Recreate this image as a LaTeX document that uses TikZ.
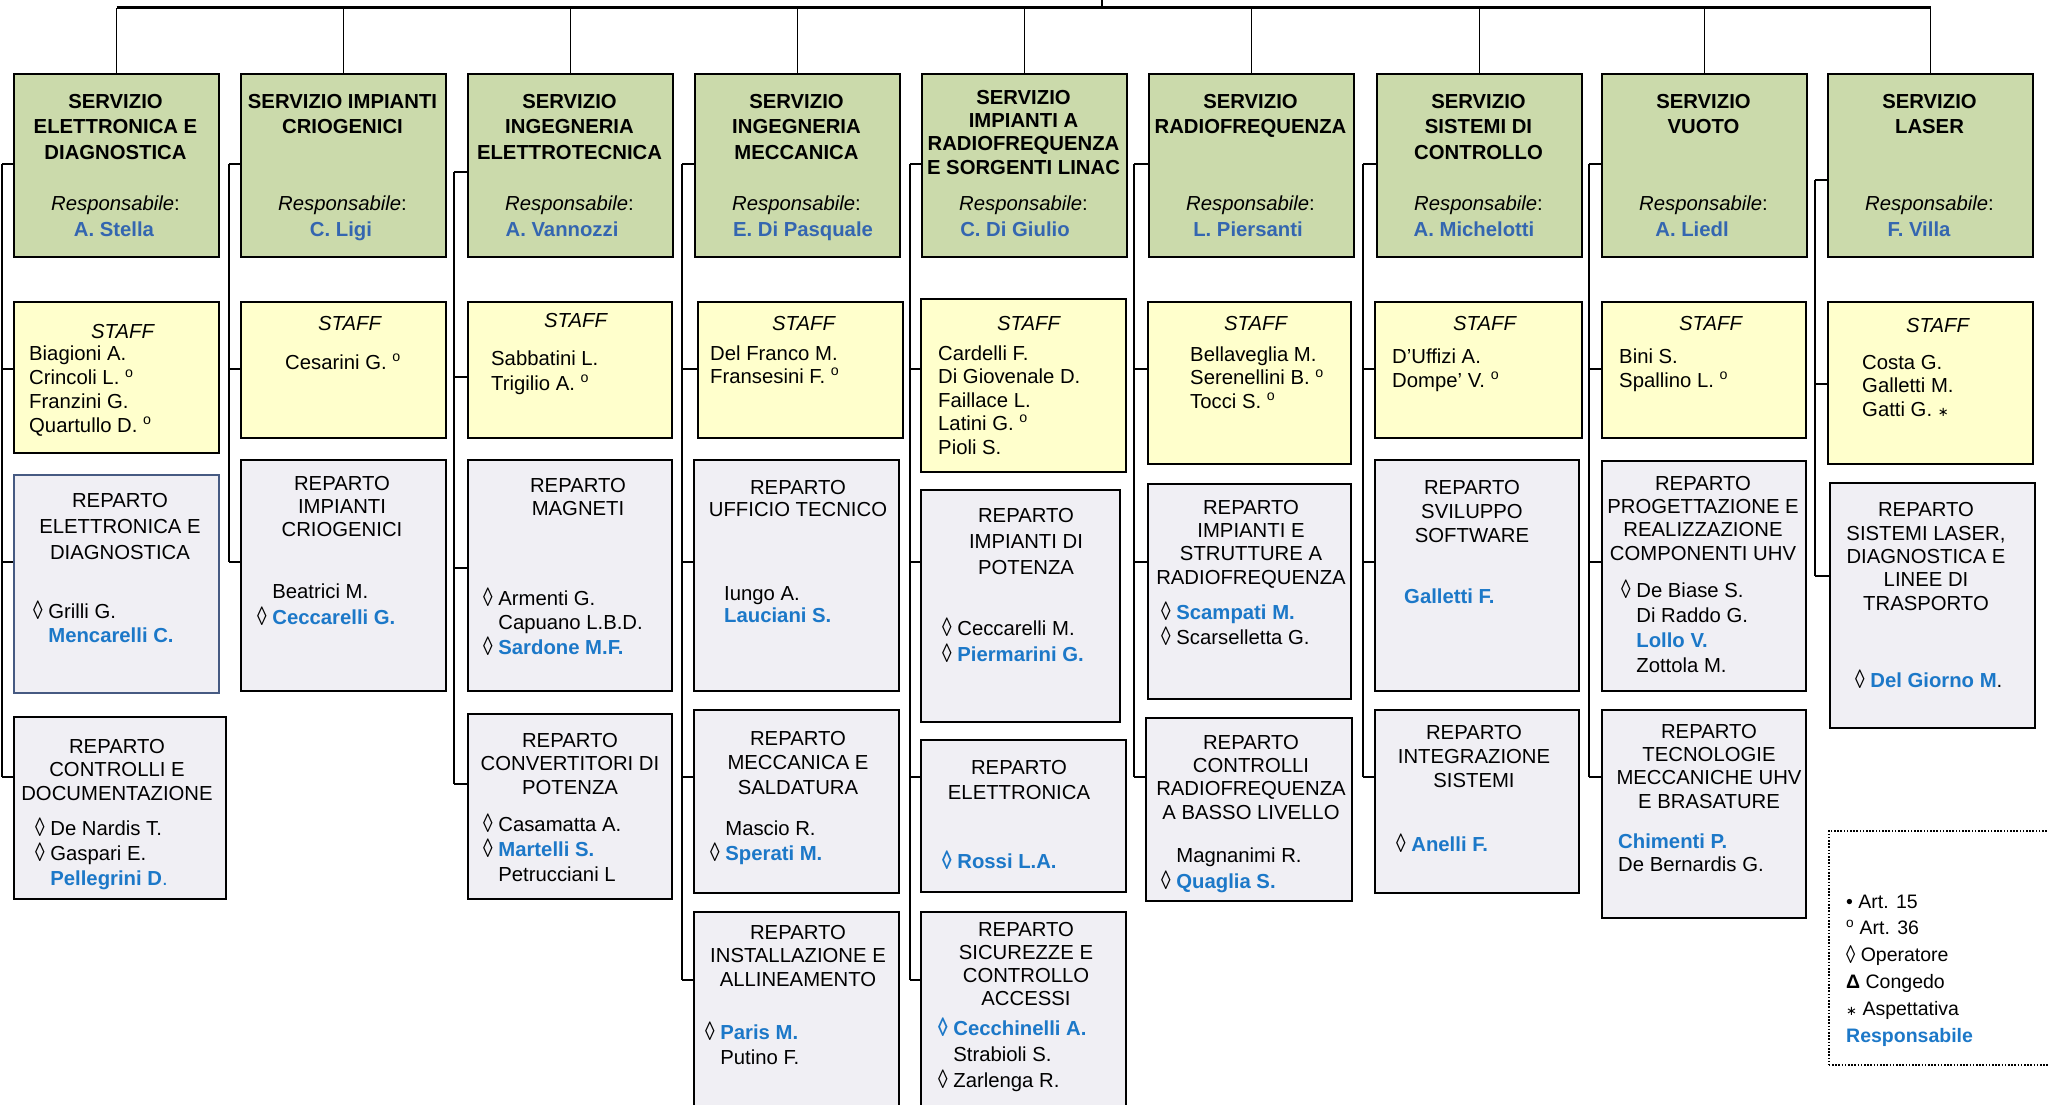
\documentclass[tikz,border=0pt]{standalone}
\usepackage{graphicx}
\usepackage{fontspec}
\setmainfont{Liberation Sans}
\newfontfamily\dv{DejaVu Sans}
\usetikzlibrary{calc}
\definecolor{gfill}{RGB}{203,218,171}
\definecolor{sfill}{RGB}{255,255,204}
\definecolor{rfill}{RGB}{240,239,244}
\definecolor{rblue}{RGB}{52,102,176}
\definecolor{nblue}{RGB}{28,120,200}
\definecolor{bord}{RGB}{70,90,130}
\newcommand{\bn}[1]{\textcolor{nblue}{\bfseries #1}}
\newcommand{\lz}{\raisebox{-1.5pt}{\scalebox{0.95}[1.3]{◊}}}
\newcommand{\ph}{\hphantom{\lz\ }}
\newcommand{\deo}{\textsuperscript{o}}
\newcommand{\astk}{{\dv\fontsize{13}{13}\selectfont ∗}}
\tikzset{
  boxbase/.style={draw=black, line width=2pt, anchor=north west, inner sep=0pt},
  gbox/.style={boxbase, fill=gfill},
  sbox/.style={boxbase, fill=sfill},
  rbox/.style={boxbase, fill=rfill},
  hd/.style={anchor=base, align=center, inner sep=0pt, font=\fontsize{20.3}{#1}\selectfont},
  hd/.default=24,
  gh/.style={anchor=base, align=center, inner sep=0pt, font=\fontsize{20.3}{#1}\selectfont\bfseries},
  gh/.default=25.5,
  nm/.style={anchor=base west, align=left, inner sep=0pt, font=\fontsize{20.3}{#1}\selectfont},
  nm/.default=24,
  wire/.style={line width=2.4pt},
  drop/.style={line width=1.6pt},
  top/.style={line width=2.2pt},
}
\begin{document}
\begin{tikzpicture}[x=1pt,y=-1pt]
\useasboundingbox (0,0) rectangle (2048,1104);
\fill[white] (0,0) rectangle (2048,1104);

% (text nodes are placed at the baseline of their LAST line)

% ---------- SERVIZI (green) ----------
\node[gbox, minimum width=205, minimum height=183] (g1) at (13,73) {};
\node[gbox, minimum width=205, minimum height=183] (g2) at (240,73) {};
\node[gbox, minimum width=205, minimum height=183] (g3) at (467,73) {};
\node[gbox, minimum width=205, minimum height=183] (g4) at (694,73) {};
\node[gbox, minimum width=205, minimum height=183] (g5) at (921,73) {};
\node[gbox, minimum width=205, minimum height=183] (g6) at (1148,73) {};
\node[gbox, minimum width=205, minimum height=183] (g7) at (1376,73) {};
\node[gbox, minimum width=205, minimum height=183] (g8) at (1601,73) {};
\node[gbox, minimum width=205, minimum height=183] (g9) at (1827,73) {};

\node[gh] (gh1) at (115.5,159) {SERVIZIO\\ELETTRONICA E\\DIAGNOSTICA};
\node[gh] (gh2) at (342.5,133.5) {SERVIZIO IMPIANTI\\CRIOGENICI};
\node[gh] (gh3) at (569.5,159) {SERVIZIO\\INGEGNERIA\\ELETTROTECNICA};
\node[gh] (gh4) at (796.5,159) {SERVIZIO\\INGEGNERIA\\MECCANICA};
\node[gh=23.3] (gh5) at (1023.5,174) {SERVIZIO\\IMPIANTI A\\RADIOFREQUENZA\\E SORGENTI LINAC};
\node[gh] (gh6) at (1250.5,133.5) {SERVIZIO\\RADIOFREQUENZA};
\node[gh] (gh7) at (1478.5,159) {SERVIZIO\\SISTEMI DI\\CONTROLLO};
\node[gh] (gh8) at (1703.5,133.5) {SERVIZIO\\VUOTO};
\node[gh] (gh9) at (1929.5,133.5) {SERVIZIO\\LASER};

\foreach \i/\cx in {1/115.5,2/342.5,3/569.5,4/796.5,5/1023.5,6/1250.5,7/1478.5,8/1703.5,9/1929.5}
  {\node[hd] (grl\i) at (\cx,210) {\textit{Responsabile}:};}
\foreach \i/\cx/\nm in {1/114/A. Stella,2/341/C. Ligi,3/562/A. Vannozzi,4/803/E. Di Pasquale,5/1015/C. Di Giulio,6/1248/L. Piersanti,7/1474/A. Michelotti,8/1692/A. Liedl,9/1919/F. Villa}
  {\node[hd] (grn\i) at (\cx,236) {\textcolor{rblue}{\bfseries \nm}};}

% ---------- STAFF (yellow) ----------
\node[sbox, minimum width=205, minimum height=151] (s1) at (13,301) {};
\node[sbox, minimum width=205, minimum height=136] (s2) at (240,301) {};
\node[sbox, minimum width=204, minimum height=136] (s3) at (467,301) {};
\node[sbox, minimum width=205, minimum height=136] (s4) at (697,301) {};
\node[sbox, minimum width=205, minimum height=173] (s5) at (920,298) {};
\node[sbox, minimum width=203, minimum height=162] (s6) at (1147,301) {};
\node[sbox, minimum width=207, minimum height=136] (s7) at (1374,301) {};
\node[sbox, minimum width=204, minimum height=136] (s8) at (1601,301) {};
\node[sbox, minimum width=205, minimum height=162] (s9) at (1827,301) {};

\foreach \i/\cx/\by in {1/123/338,2/350/330,3/576/327,4/804/330,5/1029/330,6/1256/330,7/1485/330,8/1711/330,9/1938/332}
  {\node[hd] (st\i) at (\cx,\by) {\textit{STAFF}};}

\node[nm=23.7] (sn1) at (29,432) {Biagioni A.\\Crincoli L. \deo\\Franzini G.\\Quartullo D. \deo};
\node[hd] (sn2) at (343,369) {Cesarini G. \deo};
\node[nm=25] (sn3) at (491,390) {Sabbatini L.\\Trigilio A. \deo};
\node[nm=23] (sn4) at (710,383) {Del Franco M.\\Fransesini F. \deo};
\node[nm=23.5] (sn5) at (938,454) {Cardelli F.\\Di Giovenale D.\\Faillace L.\\Latini G. \deo\\Pioli S.};
\node[nm=23.7] (sn6) at (1190,408.4) {Bellaveglia M.\\Serenellini B. \deo\\Tocci S. \deo};
\node[nm] (sn7) at (1392,387) {D’Uffizi A.\\Dompe’ V. \deo};
\node[nm] (sn8) at (1619,387) {Bini S.\\Spallino L. \deo};
\node[nm=23.5] (sn9) at (1862,416) {Costa G.\\Galletti M.\\Gatti G. \astk};

% ---------- REPARTI ----------
\node[rbox, draw=bord, line width=1.6pt, minimum width=205, minimum height=218] (r11) at (13,474) {};
\node[rbox, minimum width=212, minimum height=182] (r12) at (13,716) {};
\node[rbox, minimum width=205, minimum height=231] (r21) at (240,459) {};
\node[rbox, minimum width=204, minimum height=231] (r31) at (467,459) {};
\node[rbox, minimum width=204, minimum height=185] (r32) at (467,713) {};
\node[rbox, minimum width=205, minimum height=231] (r41) at (693,459) {};
\node[rbox, minimum width=205, minimum height=183] (r42) at (693,709) {};
\node[rbox, minimum width=205, minimum height=210] (r43) at (693,911) {};
\node[rbox, minimum width=199, minimum height=232] (r51) at (920,489) {};
\node[rbox, minimum width=205, minimum height=152] (r52) at (920,739) {};
\node[rbox, minimum width=205, minimum height=210] (r53) at (920,911) {};
\node[rbox, minimum width=203, minimum height=215] (r61) at (1147,483) {};
\node[rbox, minimum width=206, minimum height=183] (r62) at (1145,717) {};
\node[rbox, minimum width=204, minimum height=231] (r71) at (1374,459) {};
\node[rbox, minimum width=204, minimum height=183] (r72) at (1374,709) {};
\node[rbox, minimum width=204, minimum height=230] (r81) at (1601,460) {};
\node[rbox, minimum width=204, minimum height=208] (r82) at (1601,709) {};
\node[rbox, minimum width=205, minimum height=245] (r91) at (1829,482) {};

\node[hd=26] (rh11) at (120,559) {REPARTO\\ELETTRONICA E\\DIAGNOSTICA};
\node[nm] (rn11) at (33,642) {\lz\ Grilli G.\\\ph\bn{Mencarelli C.}};
\node[hd=23.5] (rh12) at (117,800) {REPARTO\\CONTROLLI E\\DOCUMENTAZIONE};
\node[nm=25] (rn12) at (35,885) {\lz\ De Nardis T.\\\lz\ Gaspari E.\\\ph\bn{Pellegrini D}\textcolor{nblue}{.}};
\node[hd=23] (rh21) at (342,536) {REPARTO\\IMPIANTI\\CRIOGENICI};
\node[nm=26] (rn21) at (257,624) {\ph Beatrici M.\\\lz\ \bn{Ceccarelli G.}};
\node[hd=23] (rh31) at (578,515) {REPARTO\\MAGNETI};
\node[nm=24.5] (rn31) at (483,654) {\lz\ Armenti G.\\\ph Capuano L.B.D.\\\lz\ \bn{Sardone M.F.}};
\node[hd=23.5] (rh32) at (570,794) {REPARTO\\CONVERTITORI DI\\POTENZA};
\node[nm=25] (rn32) at (483,881) {\lz\ Casamatta A.\\\lz\ \bn{Martelli S.}\\\ph Petrucciani L};
\node[hd=22.5] (rh41) at (798,516.5) {REPARTO\\UFFICIO TECNICO};
\node[nm=22] (rn41) at (724,622) {Iungo A.\\\bn{Lauciani S.}};
\node[hd=24.5] (rh42) at (798,794) {REPARTO\\MECCANICA E\\SALDATURA};
\node[nm=25] (rn42) at (710,860) {\ph Mascio R.\\\lz\ \bn{Sperati M.}};
\node[hd=23.5] (rh43) at (798,986) {REPARTO\\INSTALLAZIONE E\\ALLINEAMENTO};
\node[nm=25] (rn43) at (705,1064) {\lz\ \bn{Paris M.}\\\ph Putino F.};
\node[hd=26] (rh51) at (1026,574) {REPARTO\\IMPIANTI DI\\POTENZA};
\node[nm=26] (rn51) at (942,661) {\lz\ Ceccarelli M.\\\lz\ \bn{Piermarini G.}};
\node[hd=25] (rh52) at (1019,799) {REPARTO\\ELETTRONICA};
\node[nm] (rn52) at (942,868) {\bn{\lz\ Rossi L.A.}};
\node[hd=23] (rh53) at (1026,1005) {REPARTO\\SICUREZZE E\\CONTROLLO\\ACCESSI};
\node[nm=26] (rn53) at (938,1087) {\bn{\lz\ Cecchinelli A.}\\\ph Strabioli S.\\\lz\ Zarlenga R.};
\node[hd=23.3] (rh61) at (1251,584) {REPARTO\\IMPIANTI E\\STRUTTURE A\\RADIOFREQUENZA};
\node[nm=25] (rn61) at (1161,644) {\lz\ \bn{Scampati M.}\\\lz\ Scarselletta G.};
\node[hd=23.3] (rh62) at (1251,819) {REPARTO\\CONTROLLI\\RADIOFREQUENZA\\A BASSO LIVELLO};
\node[nm=26] (rn62) at (1161,888) {\ph Magnanimi R.\\\lz\ \bn{Quaglia S.}};
\node[hd=24] (rh71) at (1472,542) {REPARTO\\SVILUPPO\\SOFTWARE};
\node[nm] (rn71) at (1404,603) {\bn{Galletti F.}};
\node[hd=24] (rh72) at (1474,787) {REPARTO\\INTEGRAZIONE\\SISTEMI};
\node[nm] (rn72) at (1396,851) {\lz\ \bn{Anelli F.}};
\node[hd=23.3] (rh81) at (1703,560) {REPARTO\\PROGETTAZIONE E\\REALIZZAZIONE\\COMPONENTI UHV};
\node[nm=25] (rn81) at (1621,672) {\lz\ De Biase S.\\\ph Di Raddo G.\\\ph\bn{Lollo V.}\\\ph Zottola M.};
\node[hd=23.3] (rh82) at (1709,808) {REPARTO\\TECNOLOGIE\\MECCANICHE UHV\\E BRASATURE};
\node[nm=23] (rn82) at (1618,871) {\bn{Chimenti P.}\\De Bernardis G.};
\node[hd=23.3] (rh91) at (1926,610) {REPARTO\\SISTEMI LASER,\\DIAGNOSTICA E\\LINEE DI\\TRASPORTO};
\node[nm] (rn91) at (1855,687) {\lz\ \bn{Del Giorno M}.};

% ---------- connectors ----------
\coordinate (root) at (1102,-20);
\draw[top] (g1.north |- 0,7.5) -- (g9.north |- 0,7.5);
\draw[top] (root) -- (root |- 0,7.5);
\foreach \i in {1,...,9} {\draw[drop] (g\i.north) -- (g\i.north |- 0,7.5);}

\coordinate (c1) at (2,0);
\coordinate (c2) at (229,0);
\coordinate (c3) at (454,0);
\coordinate (c4) at (682,0);
\coordinate (c5) at (910,0);
\coordinate (c6) at (1134,0);
\coordinate (c7) at (1363,0);
\coordinate (c8) at (1589,0);
\coordinate (c9) at (1815,0);

\draw[wire] (c1 |- 0,164) -- (c1 |- 0,777);
\foreach \n/\y in {g1/164, s1/369, r11/562, r12/777} {\draw[wire] (\n.west |- 0,\y) -- (c1 |- 0,\y);}
\draw[wire] (c2 |- 0,164) -- (c2 |- 0,562);
\foreach \n/\y in {g2/164, s2/369, r21/562} {\draw[wire] (\n.west |- 0,\y) -- (c2 |- 0,\y);}
\draw[wire] (c3 |- 0,172) -- (c3 |- 0,784);
\foreach \n/\y in {g3/172, s3/377, r31/568, r32/784} {\draw[wire] (\n.west |- 0,\y) -- (c3 |- 0,\y);}
\draw[wire] (c4 |- 0,164) -- (c4 |- 0,980);
\foreach \n/\y in {g4/164, s4/369, r41/562, r42/777, r43/980} {\draw[wire] (\n.west |- 0,\y) -- (c4 |- 0,\y);}
\draw[wire] (c5 |- 0,164) -- (c5 |- 0,980);
\foreach \n/\y in {g5/164, s5/369, r51/562, r52/777, r53/980} {\draw[wire] (\n.west |- 0,\y) -- (c5 |- 0,\y);}
\draw[wire] (c6 |- 0,164) -- (c6 |- 0,777);
\foreach \n/\y in {g6/164, s6/369, r61/562, r62/777} {\draw[wire] (\n.west |- 0,\y) -- (c6 |- 0,\y);}
\draw[wire] (c7 |- 0,164) -- (c7 |- 0,777);
\foreach \n/\y in {g7/164, s7/369, r71/562, r72/777} {\draw[wire] (\n.west |- 0,\y) -- (c7 |- 0,\y);}
\draw[wire] (c8 |- 0,164) -- (c8 |- 0,777);
\foreach \n/\y in {g8/164, s8/369, r81/562, r82/777} {\draw[wire] (\n.west |- 0,\y) -- (c8 |- 0,\y);}
\draw[wire] (c9 |- 0,180) -- (c9 |- 0,576);
\foreach \n/\y in {g9/180, s9/384, r91/576} {\draw[wire] (\n.west |- 0,\y) -- (c9 |- 0,\y);}

% ---------- legend ----------
\node[draw=black, line width=1.6pt, dash pattern=on 1.6pt off 1.6pt, anchor=north west, inner sep=0pt,
      minimum width=240, minimum height=234] (leg) at (1828,830) {};
\node[anchor=base west, align=left, inner sep=0pt, font=\fontsize{19.5}{26.8}\selectfont] (legt) at (1846,1042)
  {• Art. 15\\\deo\ Art. 36\\\lz\ Operatore\\\textbf{Δ} Congedo\\\astk\ Aspettativa\\\bn{Responsabile}};
\end{tikzpicture}
\end{document}
